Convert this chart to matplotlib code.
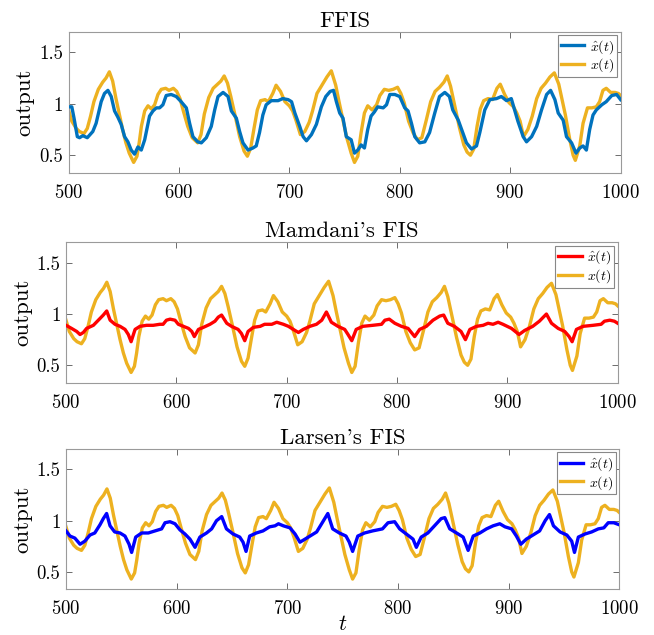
import matplotlib
matplotlib.use("Agg")
import matplotlib.pyplot as plt
import numpy as np

plt.rcParams["font.family"] = ["cmr10", "DejaVu Serif"]
plt.rcParams["mathtext.fontset"] = "cm"
plt.rcParams["axes.formatter.use_mathtext"] = True

# target series x(t), shared by all three panels
t_x = [500, 503, 507, 510, 514, 517, 520, 523, 527, 531, 534, 537, 540, 543, 546, 549, 552, 555, 559, 562,
       564, 566, 569, 572, 575, 578, 581, 584, 588, 591, 595, 598, 601, 604, 608, 612, 617, 620, 623, 627,
       631, 635, 638, 641, 644, 647, 651, 655, 659, 662, 665, 668, 671, 674, 678, 681, 685, 688, 692, 696,
       700, 703, 706, 710, 714, 718, 721, 725, 730, 734, 738, 742, 745, 748, 752, 756, 759, 762, 765, 768,
       771, 775, 779, 782, 786, 790, 794, 798, 801, 804, 808, 812, 816, 820, 824, 828, 832, 836, 840, 843,
       846, 850, 854, 858, 861, 864, 867, 870, 873, 876, 880, 884, 888, 891, 895, 899, 903, 906, 909, 912,
       916, 920, 924, 928, 932, 936, 940, 944, 947, 950, 954, 957, 959, 963, 966, 970, 974, 978, 981, 984,
       987, 991, 995, 998, 1000]
x_true = [0.94, 0.83, 0.76, 0.73, 0.71, 0.76, 0.88, 1.02, 1.14, 1.21, 1.25, 1.31, 1.22, 1.05, 0.90, 0.75, 0.62, 0.52, 0.43, 0.49,
          0.62, 0.78, 0.93, 0.98, 0.95, 0.99, 1.09, 1.14, 1.15, 1.13, 1.15, 1.12, 1.05, 0.93, 0.78, 0.67, 0.62, 0.70, 0.90, 1.06,
          1.15, 1.19, 1.22, 1.27, 1.20, 1.07, 0.88, 0.68, 0.54, 0.49, 0.57, 0.76, 0.94, 1.03, 1.04, 1.02, 1.10, 1.18, 1.12, 1.02,
          0.98, 0.93, 0.84, 0.70, 0.73, 0.82, 0.93, 1.10, 1.19, 1.26, 1.32, 1.18, 1.02, 0.87, 0.67, 0.52, 0.43, 0.49, 0.72, 0.91,
          0.98, 0.94, 0.99, 1.08, 1.14, 1.13, 1.14, 1.16, 1.10, 1.01, 0.83, 0.72, 0.65, 0.67, 0.84, 1.02, 1.12, 1.16, 1.21, 1.27,
          1.17, 0.97, 0.77, 0.60, 0.53, 0.50, 0.56, 0.78, 0.95, 1.03, 1.05, 1.04, 1.15, 1.19, 1.09, 1.01, 0.97, 0.91, 0.83, 0.68,
          0.75, 0.88, 1.05, 1.15, 1.20, 1.26, 1.30, 1.19, 1.04, 0.89, 0.65, 0.50, 0.45, 0.59, 0.81, 0.96, 0.96, 0.97, 1.02, 1.13,
          1.15, 1.11, 1.11, 1.10, 1.08]

# FFIS estimate
t_ffis = [500, 503, 505, 508, 510, 513, 517, 522, 525, 529.6, 532.6, 535.7, 538.7, 541.7, 544.7, 547.7, 550.8, 553.8, 556.8, 559.8,
          562.9, 565.9, 569, 573.4, 576.5, 579.5, 582.5, 585.5, 588.5, 593, 597.6, 602, 606.7, 609.7, 612.7, 617, 620.3, 624.8, 629.3, 632.4,
          635.4, 640, 644.5, 647.5, 652, 655, 658, 662.6, 667, 670, 673, 676, 679, 683.7, 689.8, 694, 698.9, 702, 705, 709.4,
          712.5, 715.5, 720, 724.5, 729, 733, 737, 740, 742.6, 745.6, 748.6, 751.6, 756, 759, 762, 765, 768, 771, 774, 777,
          780, 785, 788, 791, 795.5, 800, 804.5, 807.5, 810.6, 813.6, 818, 822.7, 827, 831.7, 836, 840.8, 845, 848, 853, 856,
          860.4, 865, 869.5, 872.5, 877, 881.6, 887.6, 892, 896.7, 901, 904, 907, 911.8, 914.8, 919.4, 924, 928.4, 933, 936.6, 940.5,
          943.5, 948, 951, 955.6, 959.6, 963, 966, 969, 972, 975, 978, 983, 987, 992, 996.4, 1000]
x_ffis = [0.97, 0.97, 0.86, 0.68, 0.67, 0.69, 0.67, 0.73, 0.81, 1.02, 1.10, 1.13, 1.07, 0.93, 0.87, 0.80, 0.68, 0.63, 0.55, 0.51,
          0.58, 0.55, 0.65, 0.88, 0.93, 0.96, 0.96, 0.99, 1.08, 1.09, 1.07, 1.02, 0.96, 0.81, 0.68, 0.63, 0.62, 0.67, 0.78, 0.94,
          1.07, 1.11, 1.07, 0.93, 0.86, 0.73, 0.62, 0.55, 0.57, 0.59, 0.72, 0.89, 0.99, 1.03, 1.03, 1.05, 1.04, 1.02, 0.91, 0.78,
          0.68, 0.64, 0.70, 0.80, 0.97, 1.07, 1.12, 1.13, 1.02, 0.91, 0.86, 0.68, 0.65, 0.52, 0.55, 0.60, 0.57, 0.75, 0.88, 0.92,
          0.97, 0.96, 0.99, 1.09, 1.09, 1.07, 0.96, 0.93, 0.81, 0.68, 0.62, 0.63, 0.72, 0.91, 1.07, 1.11, 1.07, 0.94, 0.84, 0.75,
          0.62, 0.56, 0.59, 0.72, 0.94, 1.04, 1.05, 1.07, 1.03, 1.05, 0.94, 0.83, 0.68, 0.63, 0.68, 0.78, 0.94, 1.09, 1.13, 1.04,
          0.91, 0.84, 0.68, 0.62, 0.52, 0.57, 0.59, 0.55, 0.75, 0.89, 0.94, 0.99, 1.02, 1.08, 1.09, 1.04]

# Mamdani estimate
t_mam = [500, 505, 509.7, 512.7, 515.7, 518.7, 524.8, 529.3, 533.8, 536.9, 540, 544.4, 549, 553.5, 556.5, 559, 562.6, 567, 573, 579,
         585, 588, 591, 594.3, 598.8, 601.8, 606.4, 611, 614, 616.3, 620, 624.5, 630.5, 635, 638, 641, 645.7, 650, 656, 659,
         662, 665, 669.8, 676, 680, 686.5, 691, 697, 701.6, 706, 710.6, 715, 721, 727, 731.8, 736, 740.5, 746.5, 752.6, 755.6,
         759, 763, 769, 778, 786, 789, 793, 798, 804, 810, 816, 820.5, 826.6, 832.6, 838.7, 842.3, 846, 852, 858, 862,
         866, 872, 878, 882.5, 887, 891.6, 896, 903.7, 910.6, 915.7, 923, 929, 935.4, 940, 946, 952, 956, 958.7, 962.6, 968.6,
         977.7, 985, 988, 992.8, 997, 1000]
x_mam = [0.89, 0.86, 0.83, 0.80, 0.82, 0.86, 0.89, 0.94, 0.99, 1.03, 0.94, 0.90, 0.88, 0.85, 0.80, 0.73, 0.85, 0.88, 0.89, 0.89,
         0.90, 0.90, 0.94, 0.95, 0.94, 0.90, 0.88, 0.86, 0.83, 0.78, 0.85, 0.87, 0.90, 0.93, 0.97, 0.99, 0.91, 0.88, 0.85, 0.81,
         0.74, 0.83, 0.87, 0.88, 0.90, 0.90, 0.92, 0.90, 0.88, 0.85, 0.82, 0.85, 0.88, 0.90, 0.94, 1.02, 0.92, 0.88, 0.85, 0.80,
         0.74, 0.85, 0.88, 0.89, 0.90, 0.94, 0.95, 0.91, 0.88, 0.86, 0.78, 0.85, 0.88, 0.94, 0.98, 0.99, 0.91, 0.88, 0.83, 0.75,
         0.85, 0.88, 0.89, 0.91, 0.90, 0.92, 0.90, 0.86, 0.80, 0.84, 0.88, 0.93, 1.00, 0.91, 0.86, 0.83, 0.78, 0.73, 0.85, 0.88,
         0.89, 0.90, 0.93, 0.94, 0.93, 0.91]

# Larsen estimate
t_lar = [500, 503.6, 508, 512.7, 517, 521.7, 526, 530.7, 533.7, 536.7, 539.8, 544, 548.8, 553.3, 557, 559.3, 563, 568.4, 574.4, 580.4,
         586.4, 589.5, 594, 598.5, 603, 607.5, 612, 616.6, 621, 627, 631.6, 636, 640.7, 645, 651, 657, 660, 662.7, 666, 672,
         678, 684, 688.9, 692, 696.4, 702.4, 707, 711.4, 716, 722, 726.5, 731, 736.6, 741, 747, 753, 756, 759, 763.7, 769.8,
         777, 786, 791, 797, 801.5, 807.5, 813.6, 816.6, 821, 827, 833, 839, 842.3, 846.8, 852.9, 858.9, 863.4, 868, 874, 880,
         886, 892, 896.7, 902.7, 907, 911, 916, 922, 928, 933, 936.9, 940.5, 946.5, 952.6, 957, 959.5, 963, 969, 975, 981,
         986, 990, 995, 1000]
x_lar = [0.90, 0.85, 0.83, 0.77, 0.80, 0.86, 0.88, 0.96, 1.02, 1.07, 0.95, 0.89, 0.88, 0.85, 0.77, 0.69, 0.84, 0.88, 0.88, 0.90,
         0.92, 0.98, 0.99, 0.97, 0.91, 0.87, 0.82, 0.74, 0.84, 0.88, 0.92, 1.00, 1.04, 0.92, 0.87, 0.84, 0.79, 0.70, 0.85, 0.88,
         0.90, 0.94, 0.95, 0.97, 0.95, 0.93, 0.87, 0.79, 0.82, 0.86, 0.89, 0.97, 1.07, 0.92, 0.88, 0.85, 0.79, 0.70, 0.85, 0.88,
         0.90, 0.92, 0.98, 0.99, 0.92, 0.87, 0.82, 0.74, 0.84, 0.88, 0.95, 1.02, 1.03, 0.92, 0.88, 0.84, 0.71, 0.85, 0.88, 0.92,
         0.95, 0.97, 0.94, 0.92, 0.85, 0.77, 0.82, 0.86, 0.90, 1.00, 1.06, 0.95, 0.89, 0.86, 0.80, 0.69, 0.84, 0.87, 0.89, 0.92,
         0.93, 0.98, 0.98, 0.96]

titles = ["FFIS", "Mamdani's FIS", "Larsen's FIS"]
estimates = [(t_ffis, x_ffis), (t_mam, x_mam), (t_lar, x_lar)]
est_colors = ["#0072BD", "#FF0000", "#0000FF"]
true_color = "#EDB120"

fig = plt.figure(figsize=(6.54, 6.35), dpi=100)
W, H = 654, 635
# axes boxes in pixels: left, top, right, bottom
boxes = [(68.5, 31.7, 620.6, 172.7), (66, 242.3, 617.7, 382.7), (66, 449, 619.3, 589.3)]

for i, (box, title, (te, xe), col) in enumerate(zip(boxes, titles, estimates, est_colors)):
    l, t, r, b = box
    ax = fig.add_axes([l / W, 1 - b / H, (r - l) / W, (b - t) / H])
    ax.plot(te, xe, color=col, lw=2.4, label=r"$\hat{x}(t)$", zorder=3)
    ax.plot(t_x, x_true, color=true_color, lw=2.4, label=r"$x(t)$", zorder=2)
    ax.set_xlim(500, 1000)
    ax.set_ylim(0.33, 1.7)
    ax.set_xticks([500, 600, 700, 800, 900, 1000])
    ax.set_yticks([0.5, 1, 1.5])
    ax.set_yticklabels(["0.5", "1", "1.5"])
    ax.tick_params(direction="in", top=True, right=True, labelsize=13.5,
                   color="#555555", length=4, width=0.6)
    ax.tick_params(axis="x", pad=8)
    ax.tick_params(axis="y", pad=4)
    for s in ax.spines.values():
        s.set_color("#9a9a9a")
        s.set_linewidth(0.8)
    ax.set_title(title, fontsize=16.5, pad=3.5)
    ax.set_ylabel("output", fontsize=16.5, labelpad=3)
    leg = ax.legend(loc="upper right", fontsize=10, handlelength=1.7, handletextpad=0.4,
                    borderpad=0.2, labelspacing=0.05, fancybox=False, framealpha=1,
                    borderaxespad=0.25)
    leg.get_frame().set_edgecolor("#888888")
    leg.get_frame().set_linewidth(0.8)
    if i == 2:
        ax.set_xlabel("$t$", fontsize=16, labelpad=-3)

fig.savefig("out.png", dpi=100)
